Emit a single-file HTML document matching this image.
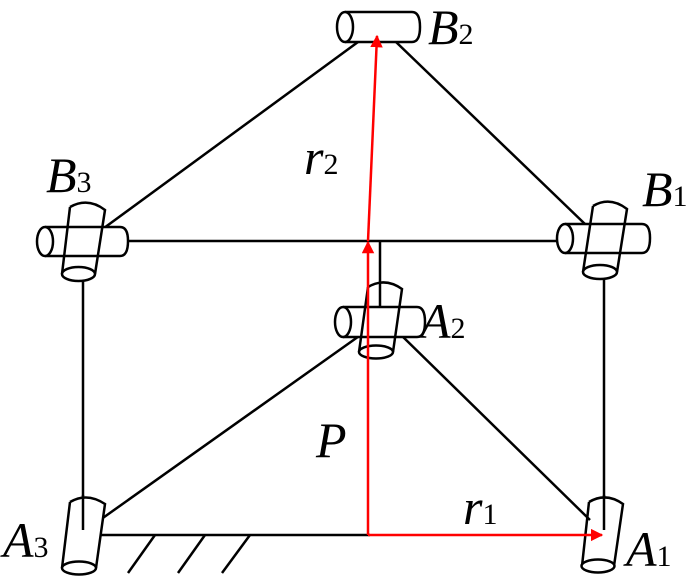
<!DOCTYPE html>
<html><head><style>body{margin:0;background:#fff}svg{display:block}
text{font-family:"Liberation Serif",serif;fill:#000}
.l{font-style:italic;font-size:50px}.s{font-size:30px}</style></head><body>
<svg width="700" height="583" viewBox="0 0 700 583" xmlns="http://www.w3.org/2000/svg">
<defs>
<marker id="ar" viewBox="0 0 10 10" refX="9" refY="5" markerWidth="5" markerHeight="5" orient="auto"><path d="M0,0L10,5L0,10z" fill="#f00"/></marker>
</defs>
<g stroke="#000" stroke-width="2.5" fill="none">
<line x1="358" y1="42" x2="104" y2="228"/>
<line x1="396" y1="42" x2="586" y2="225"/>
<line x1="128" y1="241" x2="558" y2="241"/>
<line x1="380" y1="241" x2="380" y2="320"/>
<line x1="83" y1="280" x2="83" y2="530"/>
<line x1="604" y1="278" x2="604" y2="530"/>
<line x1="362" y1="334" x2="100" y2="520"/>
<line x1="400" y1="334" x2="590" y2="520"/>
<line x1="100" y1="535" x2="370" y2="535"/>
<line x1="155" y1="535" x2="128" y2="573"/>
<line x1="205" y1="535" x2="178" y2="573"/>
<line x1="250" y1="535" x2="222" y2="573"/>
<g fill="#fff"><path d="M345,12H412Q420,12 420,27Q420,42 412,42H345"/>
<ellipse cx="345" cy="27" rx="8" ry="15"/></g>
<g fill="#fff"><path d="M45,227H120Q128,227 128,241Q128,256 120,256H45"/><ellipse cx="45" cy="241.5" rx="8" ry="14.5"/></g>
<path d="M70,207Q88,197 105,210L95,274M70,207L62,274" fill="none"/>
<ellipse cx="78.5" cy="274" rx="16.5" ry="7" fill="#fff"/>
<g fill="#fff"><path d="M565,224H642Q650,224 650,238Q650,253 642,253H565"/><ellipse cx="565" cy="238.5" rx="8" ry="14.5"/></g>
<path d="M593,206Q610,196 627,209L617,272M593,206L583,272" fill="none"/>
<ellipse cx="600" cy="272" rx="17" ry="7" fill="#fff"/>
<g fill="#fff"><path d="M343,307H417Q425,307 425,322Q425,337 417,337H343"/><ellipse cx="343" cy="322" rx="8" ry="15"/></g>
<path d="M368,287Q385,277 402,289L393,352M368,287L359,352" fill="none"/>
<ellipse cx="376" cy="352" rx="17" ry="6.5" fill="#fff"/>
<path d="M70,502Q87,492 105,504L96,568M70,502L62,568" fill="#fff"/>
<ellipse cx="79" cy="568" rx="17" ry="6.5" fill="#fff"/>
<path d="M589,502Q606,492 623,504L614,566M589,502L582,566" fill="#fff"/>
<ellipse cx="598" cy="566" rx="16.5" ry="6.5" fill="#fff"/>
<line x1="604" y1="495" x2="604" y2="530"/>
<line x1="83" y1="495" x2="83" y2="530"/>
</g>
<g stroke="#f00" stroke-width="2.5" fill="none">
<line x1="368" y1="535" x2="368" y2="242" marker-end="url(#ar)"/>
<line x1="368" y1="241" x2="377" y2="36" marker-end="url(#ar)"/>
<line x1="368" y1="535" x2="602" y2="535" marker-end="url(#ar)"/>
</g>
<text x="428" y="44"><tspan class="l">B</tspan><tspan class="s">2</tspan></text>
<text x="46" y="192"><tspan class="l">B</tspan><tspan class="s">3</tspan></text>
<text x="642" y="206"><tspan class="l">B</tspan><tspan class="s">1</tspan></text>
<text x="420" y="338"><tspan class="l">A</tspan><tspan class="s">2</tspan></text>
<text x="3" y="557"><tspan class="l">A</tspan><tspan class="s">3</tspan></text>
<text x="626" y="566"><tspan class="l">A</tspan><tspan class="s">1</tspan></text>
<text x="304" y="174"><tspan class="l">r</tspan><tspan class="s">2</tspan></text>
<text x="463" y="524"><tspan class="l">r</tspan><tspan class="s">1</tspan></text>
<text x="316" y="457" class="l">P</text>
</svg>
</body></html>
